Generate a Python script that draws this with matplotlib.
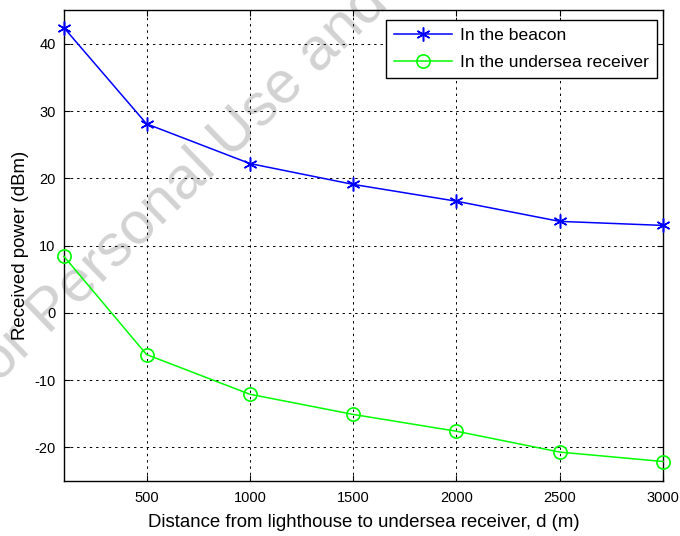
import matplotlib
matplotlib.use("Agg")
import matplotlib.pyplot as plt

plt.rcParams["font.family"] = ["Liberation Sans", "DejaVu Sans"]
plt.rcParams["axes.unicode_minus"] = False

# distances (m) and received power (dBm)
distance = [100, 500, 1000, 1500, 2000, 2500, 3000]
beacon = [42.4, 28.1, 22.2, 19.1, 16.6, 13.6, 13.0]
receiver = [8.4, -6.2, -12.1, -15.1, -17.6, -20.7, -22.1]

xticks = [500, 1000, 1500, 2000, 2500, 3000]
yticks = [-20, -10, 0, 10, 20, 30, 40]

fig = plt.figure(figsize=(6.8, 5.36), dpi=100)
ax = fig.add_axes([0.094, 0.1026, 0.881, 0.8784])

# faint watermark behind the data, runs off the top-left of the page
ax.text(-0.042, 0.237, "For Personal Use and", transform=fig.transFigure,
        fontsize=43, color="#d2d2d2", rotation=44, ha="left", va="baseline",
        rotation_mode="anchor", zorder=0.5, clip_on=False)

ax.plot(distance, beacon, "b-", marker=(6, 2, 0), markersize=10, mew=1.1, lw=1.1,
        label="In the beacon", zorder=3, clip_on=False)
ax.plot(distance, receiver, "-", color="#00ff00", marker="o", markersize=9.5,
        markerfacecolor="none", mew=1.2, lw=1.1,
        label="In the undersea receiver", zorder=3, clip_on=False)

ax.set_xlim(100, 3000)
ax.set_ylim(-25, 45)
ax.set_xticks(xticks)
ax.set_yticks(yticks)
ax.tick_params(direction="in", top=True, right=True, labelsize=10.5, length=4)
ax.tick_params(axis="x", pad=7.5)
ax.tick_params(axis="y", pad=6)
ax.grid(True, color="black", linestyle=(0, (2.5, 4)), lw=0.7)
ax.set_axisbelow(False)
for s in ax.spines.values():
    s.set_linewidth(1.0)

ax.set_xlabel("Distance from lighthouse to undersea receiver, d (m)", fontsize=13.4,
              labelpad=6)
ax.set_ylabel("Received power (dBm)", fontsize=13.4, labelpad=4)

leg = ax.legend(loc="upper right", bbox_to_anchor=(0.99, 0.979), fontsize=12.6,
                fancybox=False, framealpha=1, edgecolor="black", borderaxespad=0,
                handlelength=3.3, handletextpad=0.5, labelspacing=0.69,
                borderpad=0.43)
leg.get_frame().set_linewidth(1.0)

fig.savefig("out.png", dpi=100)
